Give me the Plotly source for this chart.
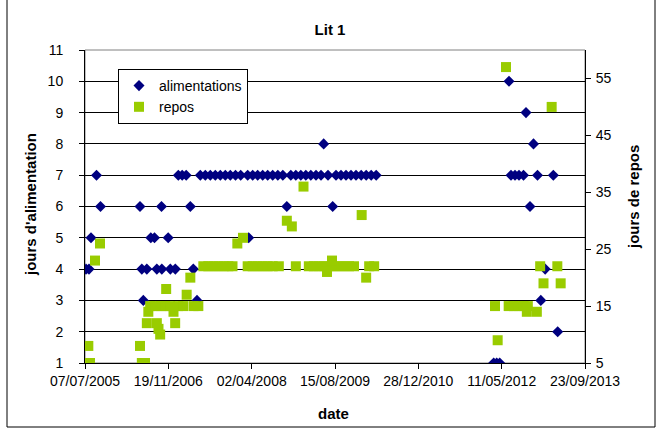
import plotly.graph_objects as go

# ---------------- data ----------------
alim_dates = [
    "2005-07-13", "2005-07-31", "2005-08-12", "2005-09-14", "2005-10-08",
    "2006-06-02", "2006-06-13", "2006-06-22", "2006-07-13", "2006-08-06", "2006-08-28",
    "2006-09-11", "2006-10-09", "2006-10-11", "2006-11-18", "2006-12-01", "2006-12-31",
    "2007-01-18", "2007-02-10", "2007-03-06", "2007-03-31", "2007-04-18", "2007-05-10",
    "2007-05-30", "2007-06-29", "2007-07-29", "2007-08-28", "2007-09-27", "2007-10-27",
    "2007-11-26", "2007-12-27", "2008-01-27", "2008-03-09", "2008-04-08", "2008-05-08",
    "2008-06-07", "2008-07-07", "2008-08-06", "2008-09-06", "2008-10-06", "2008-11-23",
    "2008-12-23", "2009-01-22", "2009-02-21", "2009-03-23", "2009-04-23", "2009-05-23",
    "2009-07-04", "2009-08-21", "2009-09-20", "2009-10-20", "2009-11-19", "2009-12-19",
    "2010-01-19", "2010-02-18", "2010-03-20", "2010-04-19",
    "2008-03-15", "2008-10-30", "2009-06-08", "2009-08-01",
    "2012-03-24", "2012-04-11", "2012-04-29", "2012-06-24", "2012-07-06", "2012-07-30",
    "2012-08-23", "2012-09-19", "2012-10-04", "2012-10-28", "2012-11-18", "2012-12-12",
    "2013-01-01", "2013-01-27", "2013-03-17", "2013-04-12",
]
alim_values = [
    4, 4, 5, 7, 6,
    6, 4, 3, 4, 5, 5,
    4, 6, 4, 5, 4, 4,
    7, 7, 7, 6, 4, 3,
    7, 7, 7, 7, 7, 7,
    7, 7, 7, 7, 7, 7,
    7, 7, 7, 7, 7, 7,
    7, 7, 7, 7, 7, 7,
    7, 7, 7, 7, 7, 7,
    7, 7, 7, 7,
    5, 6, 8, 6,
    1, 1, 1, 10, 7, 7,
    7, 7, 9, 6, 8, 7,
    3, 4, 7, 2,
]

repos_dates = [
    "2005-07-27", "2005-08-06", "2005-09-05", "2005-10-05",
    "2006-06-02", "2006-06-13", "2006-07-02", "2006-07-13", "2006-07-22", "2006-08-02",
    "2006-09-01", "2006-09-11", "2006-09-21", "2006-10-01", "2006-10-03", "2006-10-31",
    "2006-11-06", "2006-11-30", "2006-12-20", "2006-12-30",
    "2007-01-18", "2007-02-16", "2007-03-09", "2007-03-31", "2007-04-19", "2007-05-18",
    "2007-06-17", "2007-07-17", "2007-08-16", "2007-09-15", "2007-10-15", "2007-11-14",
    "2007-12-09", "2008-03-09", "2008-04-08", "2008-05-08", "2008-06-07", "2008-07-07",
    "2008-08-06", "2008-09-12", "2008-12-23", "2009-03-11", "2009-04-10", "2009-05-11",
    "2009-06-10", "2009-07-10", "2009-08-09", "2009-09-08", "2009-10-08", "2009-11-07",
    "2009-12-07", "2010-03-08", "2010-04-07",
    "2008-01-07", "2008-02-10", "2008-10-30", "2008-11-29", "2009-02-07", "2009-06-28",
    "2009-07-28", "2010-01-22", "2010-02-18",
    "2012-04-01", "2012-04-17", "2012-06-06", "2012-06-22", "2012-07-22", "2012-08-21",
    "2012-09-20", "2012-10-15", "2012-10-09", "2012-12-08", "2012-12-28", "2013-01-17",
    "2013-03-07", "2013-04-10", "2013-04-30",
]
repos_values = [
    8, 5, 23, 26,
    8, 5, 5, 12, 14, 15,
    15, 12, 11, 10, 15, 15,
    18, 15, 14, 12,
    15, 15, 17, 20, 15, 15,
    22, 22, 22, 22, 22, 22,
    22, 22, 22, 22, 22, 22,
    22, 22, 22, 22, 22, 22,
    22, 22, 22, 22, 22, 22,
    22, 22, 22,
    26, 27, 30, 29, 36, 21,
    23, 31, 20,
    15, 9, 57, 15, 15, 15,
    15, 15, 14, 14, 22, 19,
    50, 22, 19,
]

x_tick_dates = ["2005-07-07", "2006-11-19", "2008-04-02", "2009-08-15",
                "2010-12-28", "2012-05-11", "2013-09-23"]
x_tick_labels = ["07/07/2005", "19/11/2006", "02/04/2008", "15/08/2009",
                 "28/12/2010", "11/05/2012", "23/09/2013"]
y_left_ticks = list(range(1, 12))
y_right_ticks = [5, 15, 25, 35, 45, 55]

# ---------------- figure ----------------
FONT = "Liberation Sans, Arial, sans-serif"
fig = go.Figure()
fig.add_trace(go.Scatter(
    x=alim_dates, y=alim_values, mode="markers", name="alimentations",
    marker=dict(symbol="diamond", size=8.5, color="#000080", line=dict(width=0)),
    yaxis="y"))
fig.add_trace(go.Scatter(
    x=repos_dates, y=repos_values, mode="markers", name="repos",
    marker=dict(symbol="square", size=10, color="#99CC00", line=dict(width=0)),
    yaxis="y2"))

W, H = 660, 434
L, R, T, B = 85, 75, 50, 71
pw, ph = W - L - R, H - T - B


def px(xp):
    return (xp - L) / pw


def py(yp):
    return (H - B - yp) / ph


fig.update_layout(
    width=W, height=H,
    margin=dict(l=L, r=R, t=T, b=B),
    paper_bgcolor="white", plot_bgcolor="white",
    font=dict(family=FONT, size=14, color="black"),
    title=dict(text="<b>Lit 1</b>", x=0.5, xanchor="center", y=1 - 30 / H,
               yanchor="middle", yref="container", font=dict(size=15)),
    showlegend=True,
    legend=dict(x=px(118), y=py(69), xanchor="left", yanchor="top",
                bgcolor="white", bordercolor="black", borderwidth=1,
                font=dict(size=14), itemwidth=30, tracegroupgap=0),
    xaxis=dict(type="date", range=["2005-07-07", "2013-09-23"],
               tickvals=x_tick_dates, ticktext=x_tick_labels,
               showgrid=False, zeroline=False,
               showline=True, linecolor="black", linewidth=1,
               ticks="outside", ticklen=5, tickcolor="black",
               tickfont=dict(size=14)),
    yaxis=dict(range=[1, 11], tickvals=y_left_ticks,
               showgrid=True, gridcolor="black", gridwidth=1, zeroline=False,
               showline=True, linecolor="black", linewidth=1,
               ticks="outside", ticklen=5, tickcolor="black",
               ticklabelstandoff=13, tickfont=dict(size=14)),
    yaxis2=dict(range=[5, 60], tickvals=y_right_ticks, overlaying="y", side="right",
                showgrid=False, zeroline=False,
                showline=True, linecolor="black", linewidth=1,
                ticks="outside", ticklen=5, tickcolor="black",
                ticklabelstandoff=2, tickfont=dict(size=14)),
    shapes=[
        dict(type="rect", xref="paper", yref="paper", x0=0, x1=1, y0=0, y1=1,
             line=dict(color="#808080", width=1), layer="below"),
        dict(type="rect", xref="paper", yref="paper",
             x0=px(7), x1=px(655), y0=py(427), y1=py(-5),
             line=dict(color="black", width=1), layer="below"),
    ],
    annotations=[
        dict(text="<b>jours d'alimentation</b>", xref="paper", yref="paper",
             x=px(30), y=py(205), textangle=-90, showarrow=False,
             xanchor="center", yanchor="middle", font=dict(size=15)),
        dict(text="<b>jours de repos</b>", xref="paper", yref="paper",
             x=px(633), y=py(197), textangle=-90, showarrow=False,
             xanchor="center", yanchor="middle", font=dict(size=15)),
        dict(text="<b>date</b>", xref="paper", yref="paper",
             x=px(333), y=py(413), showarrow=False,
             xanchor="center", yanchor="middle", font=dict(size=15)),
    ],
)

fig.write_html("out.html")
